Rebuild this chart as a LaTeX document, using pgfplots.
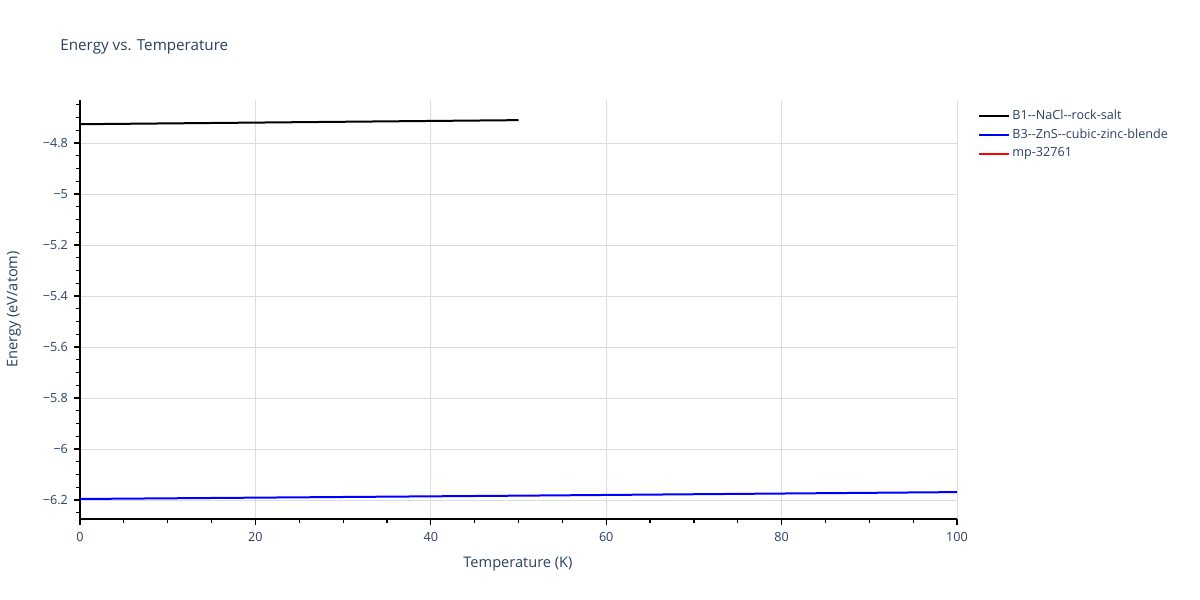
\documentclass[border=0pt]{standalone}
\usepackage{fontspec}
\setmainfont{Open Sans}
\usepackage{pgfplots}
\pgfplotsset{compat=1.18}
\definecolor{txt}{HTML}{2A3F5F}
\definecolor{grd}{HTML}{DCDCDC}
\begin{document}
\begin{tikzpicture}[x=1pt,y=1pt]
\path[use as bounding box] (0pt,0pt) rectangle (600pt,300pt);
\node[anchor=west, font=\fontsize{7.6}{9}\selectfont, text=txt, inner sep=0] at (30pt,276.5pt) {Energy vs. Temperature};
\begin{axis}[
  at={(40pt,40.5pt)}, anchor=south west,
  scale only axis, width=438.5pt, height=209.5pt,
  xmin=0, xmax=100, ymin=-6.2745, ymax=-4.631,
  axis lines*=left,
  axis line style={black, line width=0.8pt},
  xtick={0,20,40,60,80,100},
  minor xtick={5,10,15,25,30,35,45,50,55,65,70,75,85,90,95},
  ytick={-6.2,-6,-5.8,-5.6,-5.4,-5.2,-5,-4.8},
  yticklabels={−6.2,−6,−5.8,−5.6,−5.4,−5.2,−5,−4.8},
  minor ytick={-6.25,-6.15,-6.1,-6.05,-5.95,-5.9,-5.85,-5.75,-5.7,-5.65,-5.55,-5.5,-5.45,-5.35,-5.3,-5.25,-5.15,-5.1,-5.05,-4.95,-4.9,-4.85,-4.75,-4.7,-4.65},
  tick align=outside,
  major tick length=3pt, minor tick length=2pt,
  tick style={black, line width=0.6pt},
  xmajorgrids, ymajorgrids,
  major grid style={grd, line width=0.5pt},
  minor grid style={draw=none},
  /pgf/number format/assume math mode=true,
  ticklabel style={font=\fontsize{6.3}{7}\selectfont, text=txt},
  xticklabel style={yshift=0pt},
  yticklabel style={xshift=0.5pt},
  xlabel={Temperature (K)}, ylabel={Energy (eV/atom)},
  label style={font=\fontsize{7.3}{8}\selectfont, text=txt},
  xlabel style={at={(axis description cs:0.4994,-0.1074)}, anchor=center},
  ylabel style={at={(axis description cs:-0.0753,0.5)}, anchor=center},
  legend style={at={(axis description cs:1.024,0.983)}, anchor=north west, draw=none, fill=none,
    font=\fontsize{6.3}{7}\selectfont, text=txt, row sep=1.2pt, inner sep=0pt,
    nodes={inner sep=1pt}},
  legend cell align=left,
  legend image code/.code={\draw[#1] (0pt,0pt) -- (15pt,0pt);},
]
\addplot[black, line width=1pt] coordinates {(0,-4.726) (25,-4.718) (50,-4.710)};
\addlegendentry{B1-{}-NaCl-{}-rock-salt}
\addplot[blue, line width=1pt] coordinates {(0,-6.196) (50,-6.183) (100,-6.169)};
\addlegendentry{B3-{}-ZnS-{}-cubic-zinc-blende}
\addlegendimage{red, line width=1pt}
\addlegendentry{mp-32761}
\end{axis}
\end{tikzpicture}
\end{document}
